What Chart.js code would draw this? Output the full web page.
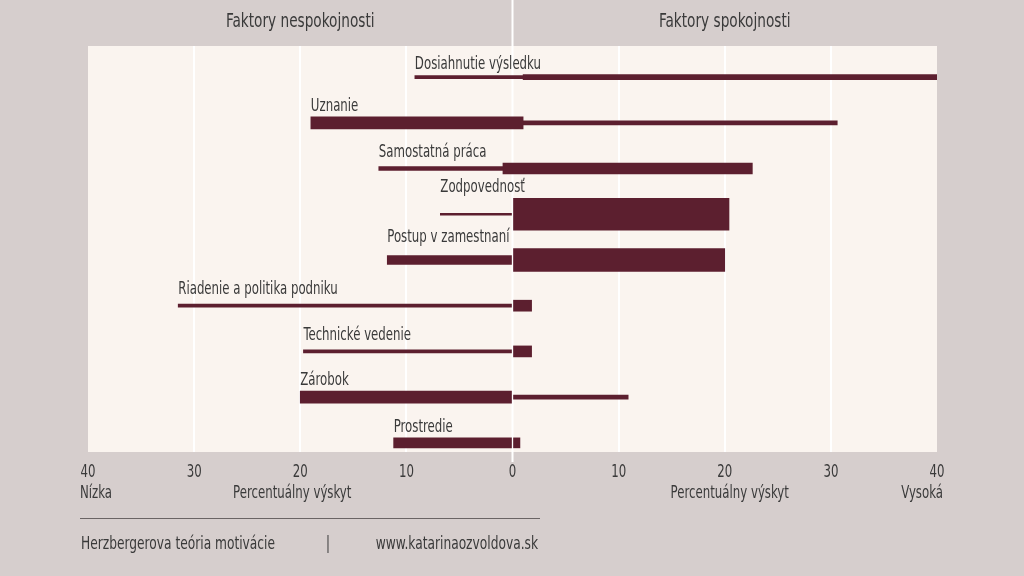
<!DOCTYPE html>
<html lang="sk">
<head>
<meta charset="utf-8">
<title>Herzbergerova teória motivácie</title>
<script src="https://cdn.jsdelivr.net/npm/chart.js@4.4.1/dist/chart.umd.min.js"></script>
<style>
    html, body { margin: 0; padding: 0; background: #d6cecd; }
    canvas { display: block; }
</style>
</head>
<body>
<canvas id="herzbergChart" width="1024" height="576"></canvas>
<script>
// Faktory a hodnoty (percentuálny výskyt)
const factors = [
    "Dosiahnutie výsledku",
    "Uznanie",
    "Samostatná práca",
    "Zodpovednosť",
    "Postup v zamestnaní",
    "Riadenie a politika podniku",
    "Technické vedenie",
    "Zárobok",
    "Prostredie"
]
const dissatisfaction = [-9.2, -19.0, -12.6, -6.8, -11.8, -31.5, -19.7, -20.0, -11.2]
const meeting = [1.0, 1.0, -0.9, 0, 0, 0, 0, 0, 0]
const satisfaction = [40, 30.6, 22.6, 20.4, 20.0, 1.8, 1.8, 10.9, 0.7]
const tickLabels = ["40", "30", "20", "10", "0", "10", "20", "30", "40"]

// hrúbka pruhov (krátkodobé / dlhodobé pocity)
const lowBarPx = [3, 12, 4, 2, 9, 3, 3, 12, 10]
const highBarPx = [5, 4, 11, 32, 23, 11, 11, 4, 10]

const FONT = "'DejaVu Sans Condensed', 'Liberation Sans Narrow', 'Open Sans', sans-serif"
const NARROW = 0.77
const BAR = "#5c1f2f"
const TEXT = "#3a3a3a"
const PANEL = "#faf4ef"
const OUTER = "#d6cecd"

// jeden dataset pre každý pruh, kvôli rôznej hrúbke
const datasets = []
factors.forEach((name, i) => {
    datasets.push({
        label: name + " (nespokojnosť)",
        data: [{ y: i, x: [dissatisfaction[i], meeting[i]] }],
        barThickness: lowBarPx[i],
        backgroundColor: BAR
    })
    datasets.push({
        label: name + " (spokojnosť)",
        data: [{ y: i, x: [meeting[i], satisfaction[i]] }],
        barThickness: highBarPx[i],
        backgroundColor: BAR
    })
})

// zúžené písmo (condensed)
function narrowText(ctx, text, x, y, align, size, sx = NARROW) {
    ctx.save()
    ctx.font = size + "px " + FONT
    ctx.textAlign = align
    ctx.translate(x, y)
    ctx.scale(sx, 1)
    ctx.fillText(text, 0, 0)
    ctx.restore()
}

const backgroundPlugin = {
    id: "panelBackground",
    beforeDraw(chart) {
        const { ctx, chartArea } = chart
        ctx.save()
        ctx.fillStyle = OUTER
        ctx.fillRect(0, 0, chart.width, chart.height)
        ctx.fillStyle = PANEL
        ctx.fillRect(chartArea.left, chartArea.top, chartArea.right - chartArea.left, chartArea.bottom - chartArea.top)
        ctx.restore()
    },
    beforeDatasetsDraw(chart) {
        // biela stredová čiara
        const { ctx, chartArea } = chart
        const x0 = chart.scales.x.getPixelForValue(0)
        ctx.save()
        ctx.strokeStyle = "#ffffff"
        ctx.lineWidth = 2
        ctx.beginPath()
        ctx.moveTo(x0, 0)
        ctx.lineTo(x0, chartArea.bottom + 10)
        ctx.stroke()
        ctx.restore()
    }
}

const labelsPlugin = {
    id: "factorLabels",
    afterDatasetsDraw(chart) {
        const ctx = chart.ctx
        ctx.save()
        ctx.fillStyle = TEXT
        ctx.textBaseline = "bottom"
        factors.forEach((name, i) => {
            const low = chart.getDatasetMeta(2 * i).data[0]
            const high = chart.getDatasetMeta(2 * i + 1).data[0]
            const top = Math.min(low.y - low.height / 2, high.y - high.height / 2)
            const left = Math.min(low.x, low.base)
            narrowText(ctx, name, left, top - 2, "left", 17)
        })
        ctx.restore()
    },
    afterDraw(chart) {
        const { ctx, chartArea } = chart
        const xs = chart.scales.x
        ctx.save()
        ctx.fillStyle = TEXT
        ctx.textBaseline = "middle"

        // nadpisy
        narrowText(ctx, "Faktory nespokojnosti", xs.getPixelForValue(-20), 22, "center", 20, 0.76)
        narrowText(ctx, "Faktory spokojnosti", xs.getPixelForValue(20), 22, "center", 20, 0.76)

        // hodnoty osi x
        xs.ticks.forEach((t, i) => {
            narrowText(ctx, tickLabels[i], xs.getPixelForTick(i), 473, "center", 17)
        })

        // popisy osi
        narrowText(ctx, "Percentuálny výskyt", xs.getPixelForValue(-20) - 8, 494, "center", 17)
        narrowText(ctx, "Percentuálny výskyt", xs.getPixelForValue(20) + 5, 494, "center", 17)
        narrowText(ctx, "Nízka", chartArea.left - 8, 494, "left", 17)
        narrowText(ctx, "Vysoká", chartArea.right + 6, 494, "right", 17)

        // päta
        ctx.strokeStyle = "#6a6464"
        ctx.lineWidth = 1
        ctx.beginPath()
        ctx.moveTo(80, 518.5)
        ctx.lineTo(540, 518.5)
        ctx.stroke()
        narrowText(ctx, "Herzbergerova teória motivácie", 81, 545, "left", 17, 0.8)
        narrowText(ctx, "|", 328, 545, "center", 17)
        narrowText(ctx, "www.katarinaozvoldova.sk", 538, 545, "right", 17, 0.8)
        ctx.restore()
    }
}

new Chart(document.getElementById("herzbergChart"), {
    type: "bar",
    data: {
        datasets: datasets
    },
    options: {
        indexAxis: "y",
        responsive: false,
        devicePixelRatio: 1,
        animation: false,
        layout: {
            padding: { left: 88, right: 87, top: 46, bottom: 74 }
        },
        datasets: {
            bar: { grouped: false, borderWidth: 0 }
        },
        plugins: {
            legend: { display: false },
            tooltip: { enabled: false }
        },
        scales: {
            x: {
                type: "linear",
                position: "bottom",
                min: -40,
                max: 40,
                afterFit: (scale) => { scale.height = 50 },
                ticks: {
                    stepSize: 10,
                    display: false
                },
                grid: {
                    drawTicks: false,
                    lineWidth: 2,
                    color: (ctx) => {
                        const v = ctx.tick ? ctx.tick.value : 0
                        return (v === 0 || Math.abs(v) === 40) ? "rgba(0,0,0,0)" : "#ffffff"
                    }
                },
                border: { display: false }
            },
            y: {
                // poradie faktorov zhora nadol
                type: "linear",
                reverse: true,
                offset: false,
                min: -0.68,
                max: 8.2,
                display: false
            }
        }
    },
    plugins: [backgroundPlugin, labelsPlugin]
})
</script>
</body>
</html>
